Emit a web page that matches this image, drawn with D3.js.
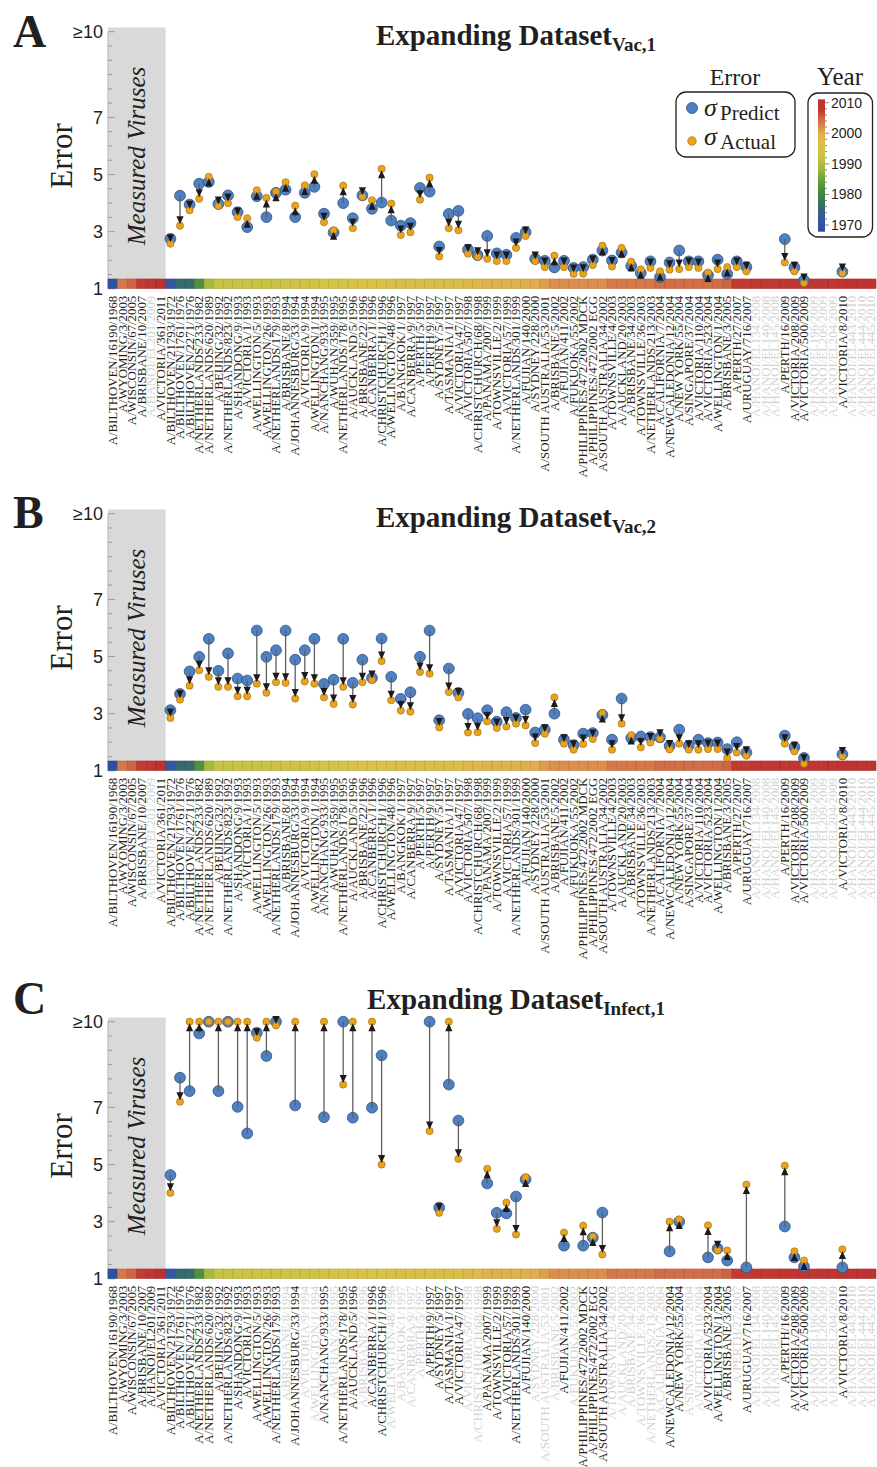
<!DOCTYPE html>
<meta charset="utf-8">
<style>body{margin:0;background:#fff}</style>
<svg width="877" height="1467"></svg>
<script src="https://cdn.jsdelivr.net/npm/d3@7/dist/d3.min.js"></script>
<script>

var viruses = [
  "A/BILTHOVEN/16190/1968", "A/WYOMING/3/2003", "A/WISCONSIN/67/2005", "A/BRISBANE/10/2007",
  "A/HANOI/EL201/2009", "A/VICTORIA/361/2011", "A/BILTHOVEN/21793/1972", "A/BILTHOVEN/1761/1976",
  "A/BILTHOVEN/2271/1976", "A/NETHERLANDS/233/1982", "A/NETHERLANDS/620/1989", "A/BEIJING/32/1992",
  "A/NETHERLANDS/823/1992", "A/SHANDONG/9/1993", "A/VICTORIA/1/1993", "A/WELLINGTON/5/1993",
  "A/WELLINGTON/26/1993", "A/NETHERLANDS/179/1993", "A/BRISBANE/8/1994", "A/JOHANNESBURG/33/1994",
  "A/VICTORIA/9/1994", "A/WELLINGTON/1/1994", "A/NANCHANG/933/1995", "A/WUHAN/359/1995",
  "A/NETHERLANDS/178/1995", "A/AUCKLAND/5/1996", "A/BRISBANE/22/1996", "A/CANBERRA/1/1996",
  "A/CHRISTCHURCH/1/1996", "A/WELLINGTON/48/1996", "A/BANGKOK/1/1997", "A/CANBERRA/9/1997",
  "A/PERTH/5/1997", "A/PERTH/9/1997", "A/SYDNEY/5/1997", "A/TASMANIA/1/1997",
  "A/VICTORIA/47/1997", "A/VICTORIA/507/1998", "A/CHRISTCHURCH/68/1998", "A/PANAMA/2007/1999",
  "A/TOWNSVILLE/2/1999", "A/VICTORIA/57/1999", "A/NETHERLANDS/301/1999", "A/FUJIAN/140/2000",
  "A/SYDNEY/228/2000", "A/SOUTH AUSTRALIA/53/2001", "A/BRISBANE/5/2002", "A/FUJIAN/411/2002",
  "A/FUKUOKA/55/2002", "A/PHILIPPINES/472/2002 MDCK", "A/PHILIPPINES/472/2002 EGG", "A/SOUTH AUSTRALIA/34/2002",
  "A/TOWNSVILLE/4/2003", "A/AUCKLAND/20/2003", "A/BRISBANE/34/2003", "A/TOWNSVILLE/36/2003",
  "A/NETHERLANDS/213/2003", "A/CALIFORNIA/7/2004", "A/NEWCALEDONIA/12/2004", "A/NEW YORK/55/2004",
  "A/SINGAPORE/37/2004", "A/VICTORIA/110/2004", "A/VICTORIA/523/2004", "A/WELLINGTON/1/2004",
  "A/BRISBANE/3/2005", "A/PERTH/27/2007", "A/URUGUAY/716/2007", "A/HANOI/EL134/2008",
  "A/HANOI/EL140/2008", "A/HANOI/EL145/2008", "A/PERTH/16/2009", "A/VICTORIA/208/2009",
  "A/VICTORIA/500/2009", "A/HANOI/EL196/2009", "A/HANOI/EL209/2009", "A/HANOI/EL204/2009",
  "A/VICTORIA/8/2010", "A/HANOI/EL443/2010", "A/HANOI/EL444/2010", "A/HANOI/EL445/2010"
];

var nMeasured = 6;

var predictA = [null,null,null,null,null,null,
  2.75,4.26,3.95,4.68,4.74,3.97,4.27,3.68,3.16,4.24,3.51,4.36,4.47,3.51,
  4.36,4.57,3.63,2.97,4.00,3.47,4.27,3.80,4.02,3.39,3.21,3.30,4.53,4.40,
  2.48,3.62,3.73,2.37,2.18,2.85,2.24,2.19,2.78,2.98,2.05,1.98,1.75,1.98,
  1.73,1.76,2.02,2.34,1.99,2.27,1.80,1.55,1.96,1.41,1.92,2.34,1.96,1.96,
  1.48,2.02,1.52,1.96,1.76,null,null,null,2.74,1.75,1.30,null,null,null,
  1.60,null,null,null];
var actualA = [null,null,null,null,null,null,
  2.58,3.21,3.75,4.15,4.92,3.90,4.00,3.51,3.47,4.45,4.18,4.40,4.73,3.91,
  4.62,5.01,3.33,3.05,4.61,3.12,4.22,4.10,5.20,3.98,2.88,2.98,4.12,4.89,
  2.13,3.12,3.05,2.23,2.12,2.05,1.97,1.97,2.43,2.85,1.97,1.76,2.16,1.76,
  1.52,1.53,1.83,2.51,1.78,2.43,1.95,1.68,1.73,1.61,1.67,1.69,1.76,1.73,
  1.57,1.69,1.76,1.76,1.61,null,null,null,1.92,1.61,1.20,null,null,null,
  1.55,null,null,null];

var predictB = [null,null,null,null,null,null,
  3.12,3.69,4.48,4.99,5.62,4.50,5.11,4.23,4.16,5.91,4.99,5.22,5.91,4.89,
  5.22,5.62,4.04,4.19,5.62,4.08,4.89,4.25,5.63,4.29,3.52,3.75,4.99,5.91,
  2.77,4.58,3.73,2.99,2.84,3.12,2.72,3.05,2.85,3.14,2.34,2.44,3.00,2.09,
  1.90,2.30,2.32,2.96,2.09,3.53,2.15,2.20,2.18,2.17,1.87,2.44,1.88,2.09,
  1.97,1.99,1.76,2.00,1.64,null,null,null,2.23,1.83,1.45,null,null,null,
  1.58,null,null,null];
var actualB = [null,null,null,null,null,null,
  2.85,3.49,3.98,4.52,4.29,3.94,3.94,3.61,3.61,4.05,3.73,4.10,4.08,3.53,
  4.13,4.05,3.57,3.34,3.94,3.32,4.10,4.18,4.84,3.47,3.11,3.07,4.46,4.40,
  2.52,3.76,3.57,2.34,2.35,2.73,2.50,2.55,2.65,2.59,1.97,2.30,3.57,1.95,
  1.74,1.94,2.11,3.02,1.74,2.65,2.25,1.82,1.99,2.12,1.75,1.95,1.74,1.74,
  1.76,1.76,1.45,1.64,1.53,null,null,null,1.95,1.68,1.25,null,null,null,
  1.50,null,null,null];

// panel C: values of 10 and more sit on the "≥10" line
var predictC = [null,null,null,null,null,null,
  4.63,8.04,7.57,9.59,10,7.57,10,7.02,6.09,9.61,8.80,10,null,7.07,
  null,null,6.66,null,10,6.64,null,6.99,8.82,null,null,null,null,10,
  3.49,7.80,6.54,null,null,4.34,3.31,3.29,3.88,4.48,null,null,null,2.16,
  null,2.16,2.44,3.32,null,null,null,null,null,null,1.96,3.00,null,null,
  1.75,2.06,1.64,null,1.40,null,null,null,2.83,1.75,1.43,null,null,null,
  1.40,null,null,null];
var actualC = [null,null,null,null,null,null,
  4.01,7.20,10,10,10,10,10,10,10,9.44,10,9.87,null,10,
  null,null,10,null,7.80,10,null,10,5.00,null,null,null,null,6.17,
  3.31,10,5.20,null,null,4.85,2.75,3.67,2.55,4.55,null,null,null,2.62,
  null,2.86,2.48,1.85,null,null,null,null,null,null,3.00,3.08,null,null,
  2.87,2.00,1.99,null,4.30,null,null,null,4.96,1.96,1.64,null,null,null,
  2.03,null,null,null];

var yTicks = [1, 3, 5, 7, 10];
var yTickLabels = ["1", "3", "5", "7", "\u226510"];
var legendYears = [1970, 1980, 1990, 2000, 2010];

var yearStops  = [1968, 1972, 1976, 1980, 1984, 1988, 1992, 1996, 2000, 2002, 2003, 2005, 2007, 2011];
var yearColors = ["#2f4f9f", "#3457a2", "#366a6c", "#3d8642", "#5f9c3c", "#9bb540", "#c5c343",
                  "#d9c346", "#e0ae4d", "#dc8f4c", "#d6784a", "#ce6443", "#c23b33", "#be3030"];

var svg = d3.select("svg"),
    serif = "'Liberation Serif','Times New Roman',serif",
    sans = "'Liberation Sans',Arial,sans-serif";

var x = d3.scaleBand().domain(d3.range(viruses.length)).range([108, 876]);
var yearColor = d3.scaleLinear().domain(yearStops).range(yearColors).clamp(true);

function yearOf(s) {
  var m = s.match(/\d{4}/g);
  return +m[m.length - 1];
}

function drawPanel(p) {
  var g = svg.append("g").attr("transform", "translate(0," + p.offset + ")");
  var y = d3.scaleLinear().domain([1, 10]).range([288.8, 31.7]);
  var cx = function(i) { return x(i) + x.bandwidth() / 2; };

  // panel letter and title
  g.append("text").attr("x", 13).attr("y", p.letterY)
      .attr("font-family", serif).attr("font-weight", "bold").attr("font-size", 46)
      .attr("fill", "#231f20").text(p.letter);
  var t = g.append("text").attr("x", 516).attr("y", p.titleY).attr("text-anchor", "middle")
      .attr("font-family", serif).attr("font-weight", "bold").attr("fill", "#231f20");
  t.append("tspan").attr("font-size", 29).text("Expanding Dataset");
  t.append("tspan").attr("font-size", 19).attr("dy", 6).text(p.sub);

  // measured viruses box
  g.append("rect").attr("x", 108).attr("y", 27.5)
      .attr("width", x(nMeasured) - 108).attr("height", 279 - 27.5).attr("fill", "#d9d9d9");
  g.append("text")
      .attr("transform", "translate(145,156)rotate(-90)")
      .attr("text-anchor", "middle").attr("font-family", serif).attr("font-style", "italic")
      .attr("font-size", 25).attr("fill", "#231f20").text("Measured Viruses");

  // y axis
  g.append("text")
      .attr("transform", "translate(72,156)rotate(-90)")
      .attr("text-anchor", "middle").attr("font-family", serif).attr("font-size", 31)
      .attr("fill", "#231f20").text("Error");
  g.append("line").attr("x1", 108).attr("x2", 108).attr("y1", y(10)).attr("y2", y(1))
      .attr("stroke", "#b5b5b5");
  g.append("g").selectAll("line").data(d3.range(1, 10.01, 0.5)).enter().append("line")
      .attr("x1", 108).attr("x2", function(d) { return yTicks.indexOf(d) >= 0 ? 115 : 112; })
      .attr("y1", y).attr("y2", y).attr("stroke", "#999");
  g.append("g").selectAll("text").data(yTicks).enter().append("text")
      .attr("x", 103).attr("y", y).attr("dy", "0.36em").attr("text-anchor", "end")
      .attr("font-family", sans).attr("font-size", 18).attr("fill", "#231f20")
      .text(function(d, i) { return yTickLabels[i]; });

  // year colour strip
  g.append("g").selectAll("rect").data(viruses).enter().append("rect")
      .attr("x", function(d, i) { return x(i); }).attr("y", 279)
      .attr("width", x.bandwidth()).attr("height", 9.5)
      .attr("fill", function(d) { return yearColor(yearOf(d)); })
      .attr("stroke", function(d) { return d3.color(yearColor(yearOf(d))).darker(0.45); })
      .attr("stroke-width", 0.6);

  // virus names
  g.append("g").selectAll("text").data(viruses).enter().append("text")
      .attr("transform", function(d, i) { return "translate(" + (cx(i) + 4.2) + "," + (y(1) + 7) + ")rotate(-90)"; })
      .attr("text-anchor", "end").attr("font-family", serif).attr("font-size", 12.8)
      .attr("fill", function(d, i) {
        var hidden = i < nMeasured ? p.hiddenMeasured.indexOf(i) >= 0 : p.predict[i] == null;
        return hidden ? "#d2d2d2" : "#231f20";
      })
      .text(function(d) { return d; });

  // points and arrows
  var idx = d3.range(viruses.length).filter(function(i) { return p.predict[i] != null; });
  var pts = g.append("g");
  pts.selectAll(".pred").data(idx).enter().append("circle")
      .attr("cx", cx).attr("cy", function(i) { return y(p.predict[i]); }).attr("r", 5.4)
      .attr("fill", "#4f80c1").attr("stroke", "#2c5285").attr("stroke-width", 0.8);
  pts.selectAll(".act").data(idx).enter().append("circle")
      .attr("cx", cx).attr("cy", function(i) { return y(p.actual[i]); }).attr("r", 3.6)
      .attr("fill", "#e9a31c").attr("stroke", "#9a6a10").attr("stroke-width", 0.6);

  idx.forEach(function(i) {
    var y1 = y(p.predict[i]), y2 = y(p.actual[i]), xc = cx(i);
    if (Math.abs(y2 - y1) < 0.5) return;
    var dir = y2 > y1 ? 1 : -1, tip = y2 - dir * 1.5, base = tip - dir * 8;
    if ((base - y1) * dir > 0) {
      pts.append("line").attr("x1", xc).attr("x2", xc).attr("y1", y1).attr("y2", base + dir)
          .attr("stroke", "#5e5e5e").attr("stroke-width", 1.3);
    }
    pts.append("path")
        .attr("d", "M" + xc + "," + tip + "L" + (xc - 3.6) + "," + base + "L" + (xc + 3.6) + "," + base + "Z")
        .attr("fill", "#1e1a1a");
  });
}

drawPanel({offset: 0, letter: "A", letterY: 47, titleY: 45, sub: "Vac,1",
           predict: predictA, actual: actualA, hiddenMeasured: [4]});
drawPanel({offset: 482, letter: "B", letterY: 46, titleY: 45, sub: "Vac,2",
           predict: predictB, actual: actualB, hiddenMeasured: [4]});
drawPanel({offset: 990, letter: "C", letterY: 24, titleY: 19, sub: "Infect,1",
           predict: predictC, actual: actualC, hiddenMeasured: []});

// legends (panel A only)
var lg = svg.append("g");
lg.append("text").attr("x", 735).attr("y", 85).attr("text-anchor", "middle")
    .attr("font-family", serif).attr("font-size", 24).attr("fill", "#231f20").text("Error");
lg.append("rect").attr("x", 676).attr("y", 92).attr("width", 119).attr("height", 65).attr("rx", 10)
    .attr("fill", "#fff").attr("stroke", "#231f20").attr("stroke-width", 1.3);
lg.append("circle").attr("cx", 692).attr("cy", 108).attr("r", 5.5)
    .attr("fill", "#4f80c1").attr("stroke", "#2c5285").attr("stroke-width", 0.8);
lg.append("circle").attr("cx", 692).attr("cy", 141).attr("r", 4.3)
    .attr("fill", "#e9a31c").attr("stroke", "#9a6a10").attr("stroke-width", 0.6);
[["Predict", 116], ["Actual", 145]].forEach(function(e) {
  lg.append("text").attr("x", 704).attr("y", e[1]).attr("font-family", serif)
      .attr("font-style", "italic").attr("font-size", 26).attr("fill", "#231f20").text("\u03c3");
  lg.append("text").attr("x", 720).attr("y", e[1] + 4).attr("font-family", serif)
      .attr("font-size", 21).attr("fill", "#231f20").text(e[0]);
});

var yl = d3.scaleLinear().domain([1970, 2010]).range([225, 102.7]);
var grad = svg.append("defs").append("linearGradient").attr("id", "yeargrad")
    .attr("x1", 0).attr("x2", 0).attr("y1", 1).attr("y2", 0);
d3.range(1967.8, 2011.2, 0.5).forEach(function(yr) {
  grad.append("stop").attr("offset", (yr - 1967.8) / (2011.1 - 1967.8)).attr("stop-color", yearColor(yr));
});
lg.append("text").attr("x", 840).attr("y", 85).attr("text-anchor", "middle")
    .attr("font-family", serif).attr("font-size", 25).attr("fill", "#231f20").text("Year");
lg.append("rect").attr("x", 808).attr("y", 93).attr("width", 64.5).attr("height", 144).attr("rx", 10)
    .attr("fill", "#fff").attr("stroke", "#231f20").attr("stroke-width", 1.3);
lg.append("rect").attr("x", 818).attr("y", yl(2011.1)).attr("width", 7)
    .attr("height", yl(1967.8) - yl(2011.1)).attr("fill", "url(#yeargrad)");
lg.append("g").selectAll("line").data(d3.range(1970, 2011, 2)).enter().append("line")
    .attr("x1", 825).attr("x2", function(d) { return d % 10 === 0 ? 829 : 827; })
    .attr("y1", yl).attr("y2", yl).attr("stroke", "#555").attr("stroke-width", 0.7);
lg.append("g").selectAll("text").data(legendYears).enter().append("text")
    .attr("x", 831).attr("y", yl).attr("dy", "0.36em")
    .attr("font-family", sans).attr("font-size", 14).attr("fill", "#231f20")
    .text(function(d) { return d; });

</script>
